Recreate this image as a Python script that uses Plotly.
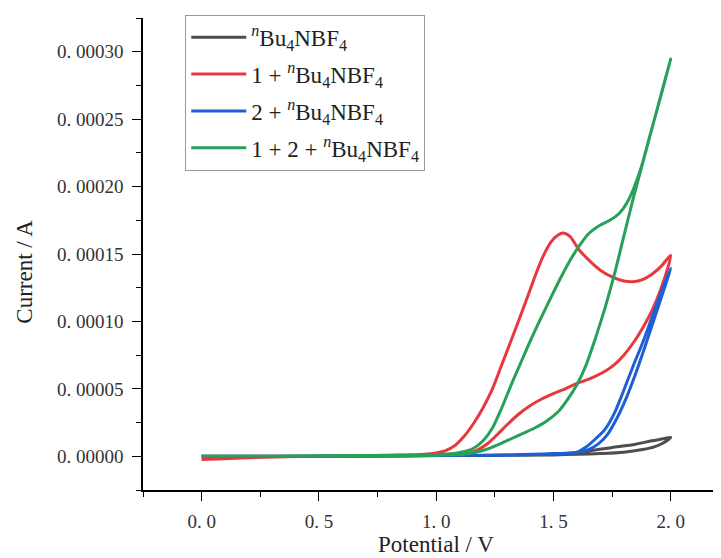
import plotly.graph_objects as go

# ---- data (potential in V, current in A; each series is one closed CV loop) ----
black_v = [0.0, 0.5, 1.0, 1.4, 1.55, 1.65, 1.75, 1.85, 1.92, 1.97, 2.0,
           1.97, 1.93, 1.88, 1.80, 1.70, 1.5, 1.0, 0.5, 0.0]
black_i = [0.0, 0.0, 0.05e-5, 0.1e-5, 0.2e-5, 0.4e-5, 0.65e-5, 0.9e-5, 1.15e-5, 1.3e-5, 1.41e-5,
           1.0e-5, 0.7e-5, 0.5e-5, 0.3e-5, 0.2e-5, 0.1e-5, 0.05e-5, 0.0, 0.0]

red_v = [0.0, 0.2, 0.5, 0.8, 0.95, 1.0, 1.04, 1.08, 1.12, 1.16, 1.20, 1.24, 1.28, 1.32, 1.37, 1.41,
         1.45, 1.49, 1.52, 1.54, 1.57, 1.61, 1.66, 1.70, 1.75, 1.80, 1.84, 1.88, 1.92, 1.96, 2.0,
         1.96, 1.92, 1.88, 1.84, 1.80, 1.76, 1.72, 1.68, 1.64, 1.60, 1.55, 1.50, 1.45, 1.40,
         1.35, 1.30, 1.26, 1.22, 1.18, 1.14, 1.09, 1.0, 0.8, 0.5, 0.2, 0.0]
red_i = [-0.24e-5, -0.1e-5, 0.0, 0.08e-5, 0.15e-5, 0.25e-5, 0.42e-5, 0.8e-5, 1.5e-5, 2.45e-5, 3.6e-5,
         5.0e-5, 6.8e-5, 8.6e-5, 10.9e-5, 12.8e-5, 14.6e-5, 15.9e-5, 16.4e-5, 16.55e-5, 16.3e-5, 15.3e-5,
         14.4e-5, 13.8e-5, 13.3e-5, 13.0e-5, 12.95e-5, 13.1e-5, 13.5e-5, 14.1e-5, 14.9e-5,
         12.5e-5, 10.8e-5, 9.5e-5, 8.4e-5, 7.5e-5, 6.8e-5, 6.3e-5, 5.95e-5, 5.65e-5, 5.4e-5,
         5.0e-5, 4.65e-5, 4.25e-5, 3.75e-5, 3.1e-5, 2.3e-5, 1.6e-5, 0.95e-5, 0.5e-5, 0.22e-5,
         0.1e-5, 0.05e-5, 0.02e-5, 0.0, -0.05e-5, -0.2e-5]

blue_v = [0.0, 0.5, 1.0, 1.3, 1.5, 1.60, 1.64, 1.68, 1.72, 1.76, 1.80, 1.84, 1.88, 1.92, 1.96, 2.0,
          1.97, 1.93, 1.89, 1.85, 1.81, 1.77, 1.73, 1.69, 1.65, 1.58, 1.4, 1.0, 0.5, 0.0]
blue_i = [0.0, 0.0, 0.05e-5, 0.1e-5, 0.2e-5, 0.3e-5, 0.7e-5, 1.3e-5, 2.0e-5, 3.2e-5, 4.9e-5, 6.7e-5,
          8.4e-5, 10.3e-5, 12.2e-5, 13.95e-5,
          12.3e-5, 10.2e-5, 8.1e-5, 6.1e-5, 4.3e-5, 2.8e-5, 1.6e-5, 0.9e-5, 0.5e-5, 0.25e-5,
          0.12e-5, 0.05e-5, 0.0, 0.0]

green_v = [0.0, 0.3, 0.6, 0.9, 1.0, 1.05, 1.09, 1.13, 1.16, 1.20, 1.24, 1.28, 1.32, 1.36, 1.40,
           1.44, 1.49, 1.53, 1.57, 1.61, 1.65, 1.70, 1.74, 1.78, 1.82, 1.87, 1.91, 1.95, 2.0,
           1.96, 1.92, 1.88, 1.84, 1.80, 1.76, 1.72, 1.68, 1.64, 1.60, 1.56, 1.52, 1.47, 1.42,
           1.37, 1.32, 1.27, 1.22, 1.17, 1.12, 1.05, 0.9, 0.6, 0.3, 0.0]
green_i = [0.0, 0.0, 0.05e-5, 0.08e-5, 0.12e-5, 0.17e-5, 0.25e-5, 0.4e-5, 0.6e-5, 1.15e-5, 2.1e-5,
           3.6e-5, 5.3e-5, 6.9e-5, 8.5e-5, 10.0e-5, 11.8e-5, 13.2e-5, 14.5e-5, 15.6e-5, 16.5e-5,
           17.15e-5, 17.5e-5, 18.0e-5, 19.0e-5, 21.2e-5, 23.7e-5, 26.2e-5, 29.45e-5,
           26.9e-5, 24.3e-5, 21.7e-5, 19.1e-5, 16.3e-5, 13.5e-5, 11.0e-5, 8.8e-5, 6.8e-5, 5.3e-5,
           4.2e-5, 3.3e-5, 2.6e-5, 2.1e-5, 1.7e-5, 1.3e-5, 0.9e-5, 0.55e-5, 0.3e-5, 0.15e-5,
           0.1e-5, 0.05e-5, 0.02e-5, 0.0, 0.0]

names = ["<sup><i>n</i></sup>Bu<sub>4</sub>NBF<sub>4</sub>",
         "1 + <sup><i>n</i></sup>Bu<sub>4</sub>NBF<sub>4</sub>",
         "2 + <sup><i>n</i></sup>Bu<sub>4</sub>NBF<sub>4</sub>",
         "1 + 2 + <sup><i>n</i></sup>Bu<sub>4</sub>NBF<sub>4</sub>"]
colors = ["#4d4d4d", "#e8383d", "#1f5fd6", "#27a05a"]

x_tickvals = [0.0, 0.5, 1.0, 1.5, 2.0]
x_ticktext = ["0. 0", "0. 5", "1. 0", "1. 5", "2. 0"]
y_tickvals = [0.0, 0.00005, 0.0001, 0.00015, 0.0002, 0.00025, 0.0003]
y_ticktext = ["0. 00000", "0. 00005", "0. 00010", "0. 00015", "0. 00020", "0. 00025", "0. 00030"]

SERIF = "Liberation Serif, Times New Roman, serif"

fig = go.Figure()
for k, (v, i, n, c) in enumerate(zip([black_v, red_v, blue_v, green_v], [black_i, red_i, blue_i, green_i],
                                     names, colors)):
    fig.add_trace(go.Scatter(x=v, y=i, mode="lines", name=n, legendgroup=f"g{k}",
                             line=dict(color=c, width=3, shape="spline", smoothing=0.8)))

axis_common = dict(showgrid=False, zeroline=False, showline=True, linecolor="black", linewidth=1.6,
                   ticks="outside", ticklen=9, tickwidth=1.4, tickcolor="black",
                   tickfont=dict(family=SERIF, size=19, color="#333"))

fig.update_xaxes(range=[-0.25, 2.2145], tickmode="array", tickvals=x_tickvals, ticktext=x_ticktext,
                 ticklabelstandoff=4,
                 minor=dict(ticks="outside", dtick=0.25, tick0=-0.25, ticklen=5, tickwidth=1.2,
                            tickcolor="black", showgrid=False),
                 **axis_common)
fig.update_yaxes(range=[-0.000025, 0.000325], tickmode="array", tickvals=y_tickvals, ticktext=y_ticktext,
                 ticklabelstandoff=5,
                 minor=dict(ticks="outside", dtick=0.000025, tick0=-0.000025, ticklen=5, tickwidth=1.2,
                            tickcolor="black", showgrid=False),
                 **axis_common)

# page body has an 8px margin: figure is 713x550 so the plot area lands where the reference has it
fig.update_layout(
    width=713, height=550,
    margin=dict(l=135, r=0, t=10, b=68),
    plot_bgcolor="white", paper_bgcolor="white",
    showlegend=True,
    legend=dict(x=0.0731, y=1.007, xanchor="left", yanchor="top",
                bordercolor="#999999", borderwidth=1, bgcolor="white",
                font=dict(family=SERIF, size=23, color="#222"),
                itemwidth=55, tracegroupgap=4),
    annotations=[
        dict(text="Potential / V", xref="paper", yref="paper", x=(436 - 143) / 578, y=-(545 - 490.3) / 472,
             xanchor="center", yanchor="middle", showarrow=False,
             font=dict(family=SERIF, size=23, color="#222")),
        dict(text="Current / A", xref="paper", yref="paper", x=-(143 - 25) / 578, y=(490.3 - 272) / 472,
             xanchor="center", yanchor="middle", textangle=-90, showarrow=False,
             font=dict(family=SERIF, size=23, color="#222")),
    ],
)

fig.write_html("out.html")
